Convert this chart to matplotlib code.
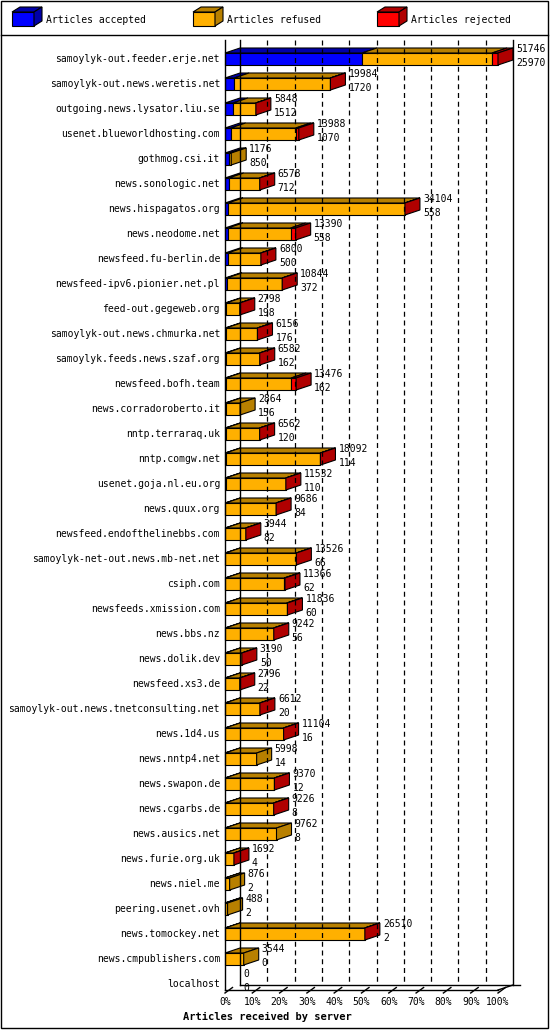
import matplotlib
matplotlib.use("Agg")
import matplotlib.pyplot as plt
from matplotlib.patches import Polygon, Rectangle
from matplotlib.lines import Line2D

servers = ["samoylyk-out.feeder.erje.net","samoylyk-out.news.weretis.net","outgoing.news.lysator.liu.se",
"usenet.blueworldhosting.com","gothmog.csi.it","news.sonologic.net","news.hispagatos.org","news.neodome.net",
"newsfeed.fu-berlin.de","newsfeed-ipv6.pionier.net.pl","feed-out.gegeweb.org","samoylyk-out.news.chmurka.net",
"samoylyk.feeds.news.szaf.org","newsfeed.bofh.team","news.corradoroberto.it","nntp.terraraq.uk","nntp.comgw.net",
"usenet.goja.nl.eu.org","news.quux.org","newsfeed.endofthelinebbs.com","samoylyk-net-out.news.mb-net.net",
"csiph.com","newsfeeds.xmission.com","news.bbs.nz","news.dolik.dev","newsfeed.xs3.de",
"samoylyk-out.news.tnetconsulting.net","news.1d4.us","news.nntp4.net","news.swapon.de","news.cgarbs.de",
"news.ausics.net","news.furie.org.uk","news.niel.me","peering.usenet.ovh","news.tomockey.net",
"news.cmpublishers.com","localhost"]
total = [51746,19984,5848,13988,1176,6578,34104,13390,6800,10844,2798,6156,6582,13476,2864,6562,18092,11532,
9686,3944,13526,11366,11836,9242,3190,2796,6612,11104,5998,9370,9226,9762,1692,876,488,26510,3544,0]
accepted = [25970,1720,1512,1070,850,712,558,558,500,372,198,176,162,162,156,120,114,110,84,82,66,62,60,56,
50,22,20,16,14,12,8,8,4,2,2,2,0,0]
rejected = [1140,10,10,570,0,10,10,950,10,10,10,10,10,950,0,10,10,10,10,10,10,150,150,10,10,10,10,10,0,10,10,0,
10,0,0,10,0,0]
legend_labels = ["Articles accepted","Articles refused","Articles rejected"]
xticks = [0,10,20,30,40,50,60,70,80,90,100]

front = ["#0000FF","#FFB000","#FF0000"]
dark = ["#0000A8","#B88000","#B00000"]

W, H = 550, 1030
fig = plt.figure(figsize=(W/100, H/100), dpi=100)
mono = "DejaVu Sans Mono"
fs = 7

# overlay axes in pixel coords for frame
bg = fig.add_axes([0,0,1,1]); bg.set_xlim(0,W); bg.set_ylim(H,0); bg.axis("off")
bg.add_patch(Rectangle((1,1),W-3,H-3,fill=False,lw=1,ec="black"))
bg.plot([1,W-2],[35,35],color="black",lw=1)
# legend
for i,(lx,lab) in enumerate(zip([12,193,377],legend_labels)):
    bx, by, bw, bh, d = lx, 12, 22, 14, 8
    bg.add_patch(Polygon([(bx,by),(bx+bw,by),(bx+bw,by+bh),(bx,by+bh)],fc=front[i],ec="black",lw=0.8))
    bg.add_patch(Polygon([(bx,by),(bx+d,by-5),(bx+bw+d,by-5),(bx+bw,by)],fc=dark[i],ec="black",lw=0.8))
    bg.add_patch(Polygon([(bx+bw,by),(bx+bw+d,by-5),(bx+bw+d,by+bh-5),(bx+bw,by+bh)],fc=dark[i],ec="black",lw=0.8))
    bg.text(bx+bw+12, 20, lab, family=mono, fontsize=fs, va="center")

# main axes: x in percent, y in row index
n = len(servers)
x0, x1 = 225, 498
y0, y1 = 59, 984
ax = fig.add_axes([x0/W, 1-y1/H, (x1-x0)/W, (y1-y0)/H])
ax.set_xlim(0,100); ax.set_ylim(n-1,0); ax.axis("off")
pxx = 100/(x1-x0); pxy = (n-1)/(y1-y0)
dx, dy = 15*pxx, 5*pxy
hh = 6*pxy
top_y = (40-y0)*pxy; floor_y = (990-y0)*pxy
kw = dict(clip_on=False)
# axes frame
ax.add_line(Line2D([0,0],[top_y,floor_y],color="black",lw=1,**kw))
ax.add_line(Line2D([dx,dx],[top_y,floor_y-dy],color="black",lw=1,**kw))
ax.add_line(Line2D([100+dx,100+dx],[top_y,floor_y-dy],color="black",lw=1,**kw))
ax.add_line(Line2D([0,100],[floor_y,floor_y],color="black",lw=1,**kw))
ax.add_line(Line2D([dx,100+dx+7*pxx],[floor_y-dy,floor_y-dy],color="black",lw=1,**kw))
ax.add_line(Line2D([100,100+dx],[floor_y,floor_y-dy],color="black",lw=1,**kw))
for t in xticks:
    if 0 < t < 100:
        ax.add_line(Line2D([t+dx,t+dx],[top_y,floor_y-dy],color="black",lw=0.9,ls=(0,(4,3)),**kw))
    ax.add_line(Line2D([t,t+dx*0.5],[floor_y+3*pxy,floor_y-dy*0.5],color="black",lw=1,**kw))
    ax.text(t, floor_y+12*pxy, f"{t}%", family=mono, fontsize=fs, ha="center", va="center", **kw)
ax.text(15*pxx*0-0+ (267-x0)*pxx, floor_y+27*pxy, "Articles received by server", family=mono,
        fontsize=7.5, weight="bold", ha="center", va="center", **kw)

mx = max(total)
for i in range(n):
    ax.text(-5*pxx, i, servers[i], family=mono, fontsize=fs, ha="right", va="center", **kw)
    t = total[i]
    segs = [accepted[i], t-accepted[i]-rejected[i], rejected[i]]
    L = 100*t/mx
    left = 0
    last = None
    for k,s in enumerate(segs):
        if s <= 0: continue
        w = 100*s/mx
        ax.add_patch(Polygon([(left,i-hh),(left+w,i-hh),(left+w,i+hh),(left,i+hh)],fc=front[k],ec="black",lw=0.8,**kw))
        ax.add_patch(Polygon([(left,i-hh),(left+dx,i-hh-dy),(left+w+dx,i-hh-dy),(left+w,i-hh)],fc=dark[k],ec="black",lw=0.8,**kw))
        left += w; last = k
    if last is not None:
        ax.add_patch(Polygon([(L,i-hh),(L+dx,i-hh-dy),(L+dx,i+hh-dy),(L,i+hh)],fc=dark[last],ec="black",lw=0.8,**kw))
    tx = L+dx+3*pxx
    ax.text(tx, i-hh-dy+1*pxy, str(t), family=mono, fontsize=fs, va="center", **kw)
    ax.text(tx, i+hh-dy+3*pxy, str(accepted[i]), family=mono, fontsize=fs, va="center", **kw)

fig.savefig("out.png", dpi=100)
